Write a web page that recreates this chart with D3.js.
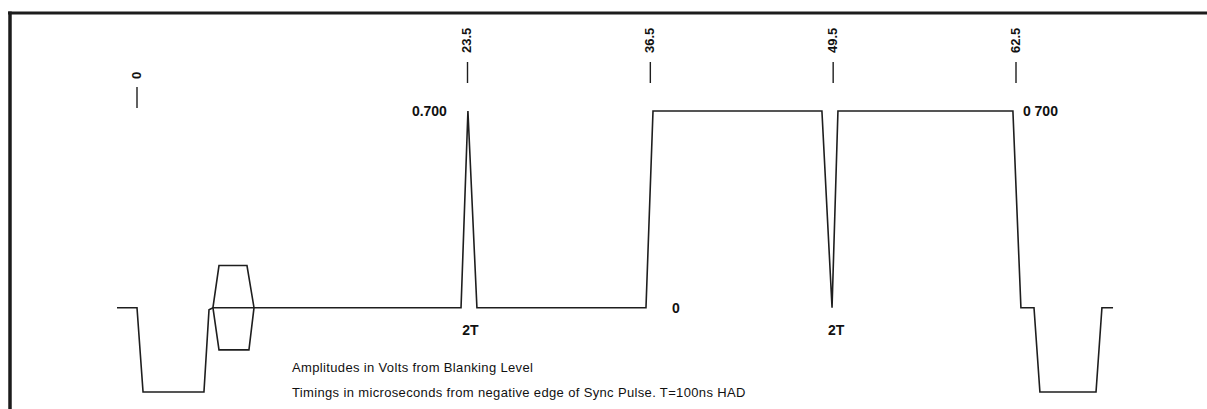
<!DOCTYPE html>
<html>
<head>
<meta charset="utf-8">
<script src="https://cdn.jsdelivr.net/npm/d3@7"></script>
<style>
  body { margin: 0; background: #fff; }
  svg { display: block; }
  text { font-family: "Liberation Sans", Arial, sans-serif; fill: #111; }
</style>
</head>
<body>
<svg id="chart" width="1207" height="409"></svg>
<script>
// timings in microseconds, amplitudes in volts from blanking level
const waveT = [-1.42, 0, 0.43, 4.76, 5.12, 5.40, 8.32, 23.04, 23.53, 24.17, 36.19, 36.69, 48.70, 49.42, 49.84, 62.28, 62.85, 63.78, 64.20, 68.19, 68.61, 69.40];
const waveV = [0, 0, -0.3, -0.3, -0.007, 0, 0, 0, 0.7, 0, 0, 0.7, 0.7, 0, 0.7, 0.7, 0, 0, -0.3, -0.3, 0, 0];

// colour burst envelope
const burstT = [5.40, 5.83, 7.82, 8.32, 7.96, 5.83];
const burstV = [0, 0.15, 0.15, 0, -0.15, -0.15];

const tickTimes = [0, 23.5, 36.5, 49.5, 62.5];
const tickLabels = ["0", "23.5", "36.5", "49.5", "62.5"];

const notes = [
  "Amplitudes in Volts from Blanking Level",
  "Timings in microseconds from negative edge of Sync Pulse. T=100ns HAD"
];

const svg = d3.select("#chart");

const x = d3.scaleLinear().domain([0, 62.5]).range([137, 1016]);
const y = d3.scaleLinear().domain([-0.3, 0.7]).range([392, 111]);

// frame (top and left edge only, as in the scan)
svg.append("line")
  .attr("x1", 8).attr("x2", 1207).attr("y1", 13).attr("y2", 13)
  .attr("stroke", "#1c1c1c").attr("stroke-width", 3);
svg.append("line")
  .attr("x1", 10).attr("x2", 10).attr("y1", 11.5).attr("y2", 409)
  .attr("stroke", "#1c1c1c").attr("stroke-width", 3.5);

const line = d3.line()
  .x((d) => x(d[0]))
  .y((d) => y(d[1]));

svg.append("path")
  .datum(waveT.map((t, i) => [t, waveV[i]]))
  .attr("d", line)
  .attr("fill", "none")
  .attr("stroke", "#1e1e1e")
  .attr("stroke-width", 1.6)
  .attr("stroke-linejoin", "miter");

svg.append("path")
  .datum(burstT.map((t, i) => [t, burstV[i]]))
  .attr("d", line.curve(d3.curveLinearClosed))
  .attr("fill", "none")
  .attr("stroke", "#1e1e1e")
  .attr("stroke-width", 1.6);

// timing markers along the top
const ticks = svg.append("g").selectAll("g")
  .data(tickTimes)
  .join("g")
  .attr("transform", (d) => "translate(" + x(d) + "," + (d === 0 ? 87 : 62) + ")");

ticks.append("line")
  .attr("y1", 0).attr("y2", 21)
  .attr("stroke", "#1e1e1e").attr("stroke-width", 1.4);

ticks.append("text")
  .attr("transform", (d) => "translate(3.5," + (d === 0 ? -8 : -9) + ") rotate(-90)")
  .attr("font-size", 13)
  .attr("font-weight", "bold")
  .text((d, i) => tickLabels[i]);

// level labels
svg.append("text")
  .attr("x", x(23.53) - 21).attr("y", y(0.7) + 5)
  .attr("text-anchor", "end")
  .attr("font-size", 14)
  .attr("font-weight", "bold")
  .text("0.700");
svg.append("text")
  .attr("x", x(62.28) + 10).attr("y", y(0.7) + 5)
  .attr("font-size", 14)
  .attr("font-weight", "bold")
  .text("0 700");
svg.append("text")
  .attr("x", x(36.69) + 19).attr("y", y(0) + 5)
  .attr("font-size", 14)
  .attr("font-weight", "bold")
  .text("0");

svg.selectAll(".tt")
  .data([23.5, 49.5])
  .join("text")
  .attr("class", "tt")
  .attr("x", (d) => x(d) + 3).attr("y", y(0) + 27)
  .attr("text-anchor", "middle")
  .attr("font-size", 14)
  .attr("font-weight", "bold")
  .text("2T");

svg.selectAll(".note")
  .data(notes)
  .join("text")
  .attr("class", "note")
  .attr("x", 292)
  .attr("y", (d, i) => 371.5 + i * 25)
  .attr("font-size", 13)
  .attr("letter-spacing", 0.35)
  .text((d) => d);
</script>
</body>
</html>
